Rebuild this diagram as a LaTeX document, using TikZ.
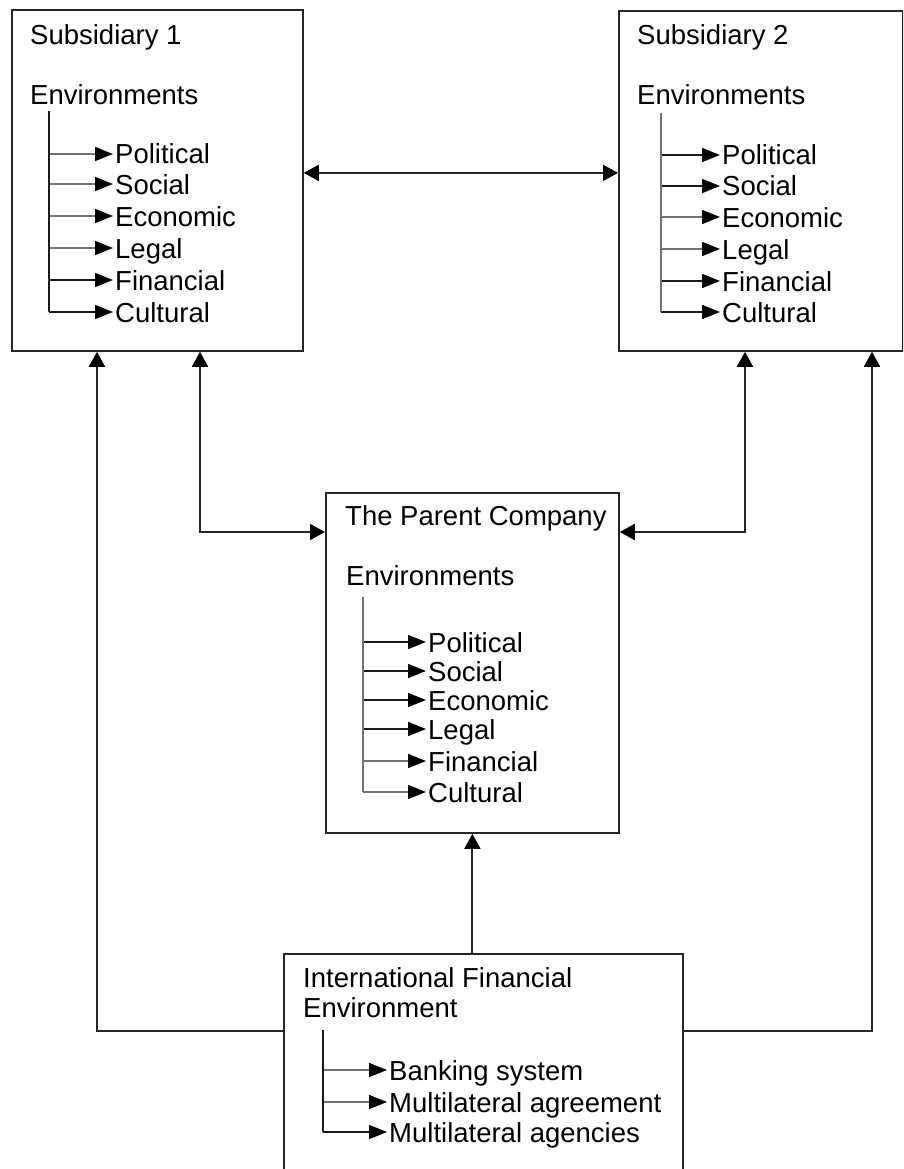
\documentclass[tikz,border=0pt]{standalone}
\usepackage{fontspec}
\setmainfont{Liberation Sans}
\usetikzlibrary{arrows.meta}
\begin{document}
\begin{tikzpicture}[x=1pt,y=-1pt,
  box/.style={draw=black!85, line width=1.8pt, anchor=north west, inner sep=0pt},
  txt/.style={anchor=base west, inner sep=0pt, font=\fontsize{27.5}{30}\selectfont},
  lab/.style={anchor=west, inner xsep=2pt, inner ysep=0pt, text height=20pt, text depth=0pt,
              font=\fontsize{27.5}{30}\selectfont},
  conn/.style={draw=black!85, line width=1.9pt, >={Triangle[length=15pt,width=16pt,color=black]}},
  trunk/.style={line width=1.6pt},
  branch/.style={line width=1.6pt, -{Triangle[length=18pt,width=14pt,color=black]}},
  lite/.style={draw=black!55},
  dark/.style={draw=black!90}
]
\useasboundingbox (0,0) rectangle (903,1169);
\clip (0,0) rectangle (903,1169);

% ---- boxes ----
\node[box, minimum width=291pt, minimum height=341pt] (s1) at (11,9) {};
\node[box, minimum width=284pt, minimum height=340pt] (s2) at (618,10) {};
\node[box, minimum width=293pt, minimum height=340pt] (p) at (325,492) {};
\node[box, minimum width=399pt, minimum height=240pt] (ife) at (283,953) {};

% ---- headings ----
\node[txt] (s1h) at (30,45) {Subsidiary 1};
\node[txt] (s1e) at (30,105) {Environments};
\node[txt] (s2h) at (637,45) {Subsidiary 2};
\node[txt] (s2e) at (637,105) {Environments};
\node[txt] (ph) at (345,525) {The Parent Company};
\node[txt] (pe) at (346,585) {Environments};
\node[txt] (ih) at (303,987) {International Financial};
\node[txt] (ie) at (303,1017) {Environment};

% ---- Subsidiary 1 tree ----
\coordinate (t1) at (49,111);
\foreach \n/\y/\t/\c in {a/154/Political/lite, b/184/Social/lite, c/216/Economic/lite,
                         d/248/Legal/lite, e/280/Financial/dark, f/312/Cultural/dark}{
  \node[lab] (s1\n) at (113,\y) {\t};
  \draw[branch,\c] (t1 |- s1\n.west) -- (s1\n.west);
}
\draw[trunk,dark] (t1) -- (t1 |- s1f.west);

% ---- Subsidiary 2 tree ----
\coordinate (t2) at (661,113);
\foreach \n/\y/\t/\c in {a/155/Political/dark, b/186/Social/dark, c/217/Economic/lite,
                         d/249/Legal/lite, e/281/Financial/dark, f/312/Cultural/dark}{
  \node[lab] (s2\n) at (720,\y) {\t};
  \draw[branch,\c] (t2 |- s2\n.west) -- (s2\n.west);
}
\draw[trunk,lite] (t2) -- (t2 |- s2f.west);

% ---- Parent company tree ----
\coordinate (t3) at (363,597);
\foreach \n/\y/\t/\c in {a/642/Political/dark, b/671/Social/dark, c/700/Economic/dark,
                         d/729/Legal/dark, e/761/Financial/lite, f/792/Cultural/lite}{
  \node[lab] (p\n) at (426,\y) {\t};
  \draw[branch,\c] (t3 |- p\n.west) -- (p\n.west);
}
\draw[trunk,lite] (t3) -- (t3 |- pf.west);

% ---- International financial environment tree ----
\coordinate (t4) at (323,1030);
\foreach \n/\y/\t/\c in {a/1070/Banking system/lite, b/1102/Multilateral agreement/lite,
                         c/1132/Multilateral agencies/dark}{
  \node[lab] (i\n) at (387,\y) {\t};
  \draw[branch,\c] (t4 |- i\n.west) -- (i\n.west);
}
\draw[trunk,dark] (t4) -- (t4 |- ic.west);

% ---- connectors between boxes ----
\draw[conn,<->] ([yshift=7.5pt]s1.east) -- ([yshift=8pt]s2.west);

\coordinate (a1) at (200,532);
\draw[conn,<->] (s1.south -| a1) -- (a1) -- (a1 -| p.west);
\coordinate (a2) at (745,532);
\draw[conn,<->] (s2.south -| a2) -- (a2) -- (a2 -| p.east);

\coordinate (b1) at (97,1031);
\draw[conn,->] (ife.west |- b1) -- (b1) -- (b1 |- s1.south);
\coordinate (b2) at (872,1031);
\draw[conn,->] (ife.east |- b2) -- (b2) -- (b2 |- s2.south);

\draw[conn,->] (ife.north -| p.south) -- (p.south);
\end{tikzpicture}
\end{document}
